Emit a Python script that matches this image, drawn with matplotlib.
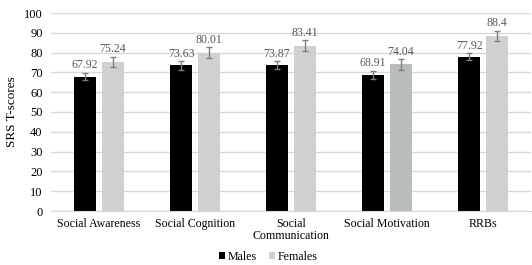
import numpy as np
import matplotlib.pyplot as plt

categories = ["Social Awareness", "Social Cognition", "Social\nCommunication",
              "Social Motivation", "RRBs"]
males = [67.92, 73.63, 73.87, 68.91, 77.92]
females = [75.24, 80.01, 83.41, 74.04, 88.4]
males_err = [2.0, 2.2, 2.0, 2.0, 1.9]
females_err = [2.7, 2.6, 2.8, 2.7, 2.7]
male_labels = ["67.92", "73.63", "73.87", "68.91", "77.92"]
female_labels = ["75.24", "80.01", "83.41", "74.04", "88.4"]

plt.rcParams['font.family'] = ['Liberation Serif', 'DejaVu Serif']

fig = plt.figure(figsize=(5.32, 2.65), dpi=100)
ax = fig.add_axes([51 / 532, 54 / 265, 480 / 532, 198 / 265])

x = np.arange(len(categories))
w = 0.23
off = 0.145
female_colors = ["#d0d0d0", "#d0d0d0", "#d0d0d0", "#b9bcbc", "#d0d0d0"]

ax.bar(x - off, males, w, color="black", label="Males", zorder=2,
       yerr=males_err, error_kw=dict(ecolor="#7f7f7f", capsize=2.3, elinewidth=1, capthick=1))
ax.bar(x + off, females, w, color=female_colors, label="Females", zorder=2,
       yerr=females_err, error_kw=dict(ecolor="#7f7f7f", capsize=2.3, elinewidth=1, capthick=1))

# data labels above the error bars
for i in range(len(categories)):
    ax.text(x[i] - off, males[i] + males_err[i] + 0.6, male_labels[i], ha="center", va="bottom",
            fontsize=8.6, color="#595959")
    ax.text(x[i] + off, females[i] + females_err[i] + 0.6, female_labels[i], ha="center", va="bottom",
            fontsize=8.6, color="#595959")

ax.set_xlim(-0.5, len(categories) - 0.5)
ax.set_ylim(0, 100)
ax.set_yticks(range(0, 101, 10))
ax.set_xticks(x)
ax.set_xticklabels(categories, fontsize=8.6, linespacing=1.0)
ax.tick_params(axis="y", labelsize=9, length=0, pad=6)
ax.tick_params(axis="x", length=0, pad=5)
ax.grid(axis="y", color="#d9d9d9", linewidth=1, zorder=0)
for s in ["top", "right", "left"]:
    ax.spines[s].set_visible(False)
ax.spines["bottom"].set_color("#d9d9d9")
ax.set_ylabel("SRS T-scores", fontsize=9.5, labelpad=4)

handles, labels = ax.get_legend_handles_labels()
fig.legend(handles, labels, loc="center", bbox_to_anchor=(268 / 532, 1 - 257 / 265), ncol=2,
           frameon=False, fontsize=8.6, handlelength=0.55, handleheight=0.55, handletextpad=0.2,
           columnspacing=1.0)

plt.savefig("out.png", dpi=100)
